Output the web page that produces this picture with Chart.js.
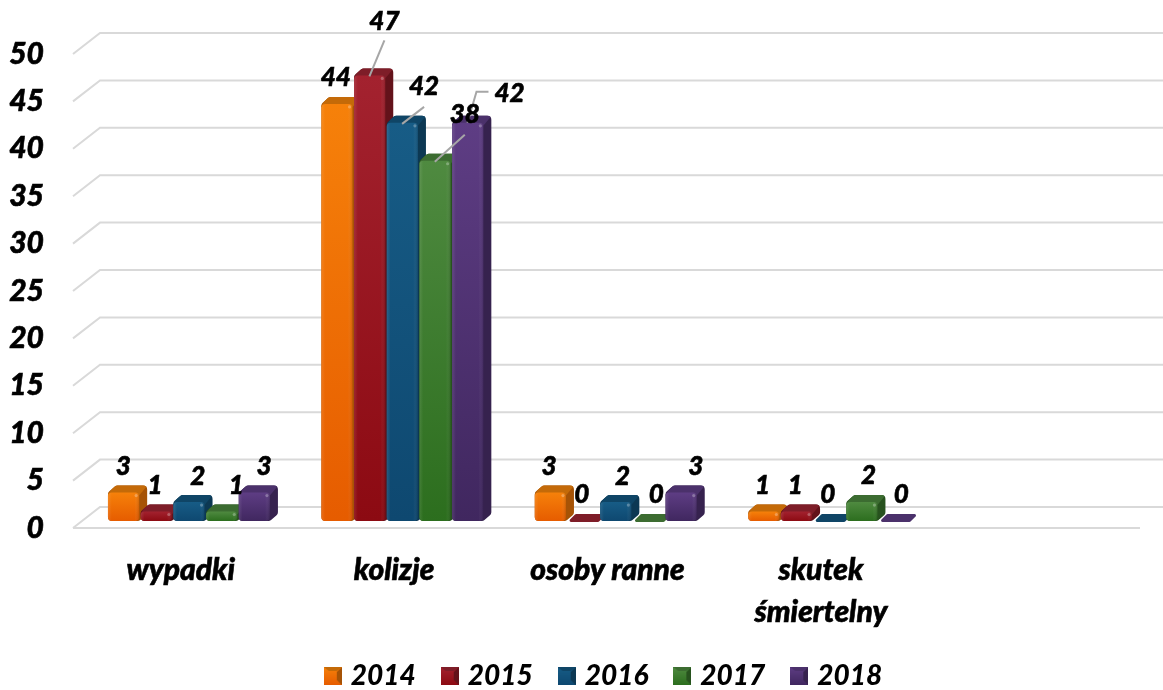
<!DOCTYPE html>
<html><head><meta charset="utf-8">
<style>html,body{margin:0;padding:0;background:#fff}canvas{display:block}</style>
<script src="https://cdn.jsdelivr.net/npm/chart.js@4"></script>
</head><body><div style="width:1163px;height:690px"><canvas id="c" width="1163" height="690"></canvas></div>
<script>
const categories = ['wypadki','kolizje','osoby ranne',['skutek','śmiertelny'],''];
const years = ['2014','2015','2016','2017','2018'];
const values2014 = [3,44,3,1];
const values2015 = [1,47,0,1];
const values2016 = [2,42,2,0];
const values2017 = [1,38,0,2];
const values2018 = [3,42,3,0];
const yTicks = {min:0,max:50,step:5};

const FONT = 'Lato, Carlito, "Open Sans", sans-serif';
const WEIGHT = '900';
const palette = [
 {top:'#F6810A',bot:'#E65C00',cap:'#C46A08',side:'#A65306'},
 {top:'#A3222F',bot:'#8C0A12',cap:'#7E1D28',side:'#63121A'},
 {top:'#175C86',bot:'#0E4870',cap:'#0F4566',side:'#0C3853'},
 {top:'#4F8A40',bot:'#2C6E1E',cap:'#3C6C31',side:'#27521E'},
 {top:'#5E3D84',bot:'#40275F',cap:'#4B316B',side:'#36224E'}
];
const nudges = [
 [[-1,-26],[-2,-26],[-2,-26],[-2,-26]],
 [[-2,-26],[14,-54],[-2,-26],[-2,-26]],
 [[8,-25],[21,-36],[6,-25],[-2,-26]],
 [[14,-26],[29,-46],[7,-26],[6,-26]],
 [[9,-26],[41,-29],[14,-26],[6,-26]]
];
const leaders = [
 {ds:1,i:1,pts:[[14,-35],[-1,1]]},
 {ds:2,i:1,pts:[[21,-16],[-1,1]]},
 {ds:3,i:1,pts:[[29,-26],[-1,1]]},
 {ds:4,i:1,pts:[[20,-31],[8,-31],[-1,0]]}
];
const DX=8, DY=7;

function roundPoly(ctx,pts,r){
  const n=pts.length;
  ctx.beginPath();
  const mx=(pts[n-1][0]+pts[0][0])/2,my=(pts[n-1][1]+pts[0][1])/2;
  ctx.moveTo(mx,my);
  for(let k=0;k<n;k++){const a=pts[k],b=pts[(k+1)%n];ctx.arcTo(a[0],a[1],b[0],b[1],r);}
  ctx.closePath();
}
function drawBar(ctx,el,c){
  const {x,y,width,base}=el.getProps(['x','y','width','base'],true);
  const x0=x-width/2,x1=x0+width-1.5,h=base-y;
  ctx.save();
  if(h<=0){
    ctx.fillStyle=c.cap;
    roundPoly(ctx,[[x0,base+1],[x0+DX,base-DY],[x1+DX,base-DY],[x1,base+1]],1.5);
    ctx.fill();ctx.restore();return;
  }
  const sil=[[x0,base],[x0,y],[x0+DX,y-DY],[x1+DX,y-DY],[x1+DX,base-DY],[x1,base]];
  ctx.fillStyle=c.side;
  roundPoly(ctx,sil,4);ctx.fill();
  ctx.save();ctx.clip();
  ctx.fillStyle=c.cap;
  ctx.beginPath();ctx.moveTo(x0-1,y+3);ctx.lineTo(x0+DX-1,y-DY-1);ctx.lineTo(x1+DX+1,y-DY-1);ctx.lineTo(x1,y+3);ctx.closePath();ctx.fill();
  ctx.restore();
  const g=ctx.createLinearGradient(0,y,0,base);
  g.addColorStop(0,c.top);g.addColorStop(1,c.bot);
  ctx.fillStyle=g;
  roundPoly(ctx,[[x0,y],[x1,y],[x1,base],[x0,base]],Math.min(4,h/2));
  ctx.fill();
  const e=ctx.createLinearGradient(x0,0,x1,0);
  e.addColorStop(0,'rgba(255,255,255,0.10)');e.addColorStop(.12,'rgba(255,255,255,0)');
  e.addColorStop(.85,'rgba(255,255,255,0)');e.addColorStop(1,'rgba(0,0,0,0.14)');
  ctx.fillStyle=e;ctx.fill();
  ctx.fillStyle='rgba(255,255,255,0.28)';
  ctx.beginPath();ctx.arc(x1-3,y+3,1.6,0,Math.PI*2);ctx.fill();
  ctx.restore();
}
function legendSwatch(c){
  const s=document.createElement('canvas');s.width=18;s.height=18;
  const q=s.getContext('2d');
  const g=q.createLinearGradient(0,0,0,18);g.addColorStop(0,c.top);g.addColorStop(1,c.bot);
  q.fillStyle=g;q.fillRect(0,0,18,18);
  q.fillStyle=c.side;q.beginPath();q.moveTo(18,0);q.lineTo(13,5);q.lineTo(13,13);q.lineTo(18,18);q.fill();
  q.fillStyle=c.cap;q.beginPath();q.moveTo(0,0);q.lineTo(18,0);q.lineTo(13,4);q.lineTo(5,4);q.fill();
  return s;
}
const swatches=palette.map(legendSwatch);

const bars3d={
  id:'bars3d',
  afterLayout(chart){
    const l=chart.legend;
    l.left=61;l.right=1150;l.top=632;l.bottom=720;
    const y=chart.scales.y;
    y.top=47;y.bottom=521;y.height=474;y.configure();
    chart.chartArea.top=47;chart.chartArea.height=474;
  },
  beforeDatasetsDraw(chart){
    const ctx=chart.ctx,y=chart.scales.y,a=chart.chartArea;
    ctx.save();ctx.strokeStyle='#D9D9D9';ctx.lineWidth=2;
    y.ticks.forEach(t=>{
      const p=y.getPixelForValue(t.value);
      ctx.beginPath();ctx.moveTo(a.left-10,p+7);ctx.lineTo(a.left+17,p-14);ctx.lineTo(a.right+13,p-14);ctx.stroke();
    });
    const p0=y.getPixelForValue(0);
    ctx.beginPath();ctx.moveTo(a.left-10,p0+7);ctx.lineTo(a.right-10,p0+7);ctx.stroke();
    ctx.restore();
    // Chart.js walks datasets last-to-first; the later years must sit on top here.
    chart.data.datasets.forEach((d,ds)=>{
      chart.getDatasetMeta(ds).data.forEach(el=>drawBar(ctx,el,palette[ds]));
    });
  },
  beforeDatasetDraw(){ return false; },
  afterDatasetsDraw(chart){
    const ctx=chart.ctx;
    ctx.save();
    ctx.strokeStyle='#A6A6A6';ctx.lineWidth=2;
    leaders.forEach(l=>{
      const el=chart.getDatasetMeta(l.ds).data[l.i];
      ctx.beginPath();
      l.pts.forEach((p,k)=>{const X=el.x+p[0],Y=el.y+p[1];k?ctx.lineTo(X,Y):ctx.moveTo(X,Y);});
      ctx.stroke();
    });
    ctx.fillStyle='#000';ctx.strokeStyle='#000';ctx.lineWidth=0.6;ctx.textAlign='center';ctx.textBaseline='middle';
    ctx.font='italic '+WEIGHT+' 26px '+FONT;
    chart.data.datasets.forEach((d,ds)=>{
      chart.getDatasetMeta(ds).data.forEach((el,i)=>{
        const n=nudges[ds][i],t=String(d.data[i]);
        ctx.fillText(t,el.x+n[0],el.y+n[1]);
        ctx.strokeText(t,el.x+n[0],el.y+n[1]);
      });
    });
    ctx.restore();
  }
};

const seriesValues=[values2014,values2015,values2016,values2017,values2018];
new Chart(document.getElementById('c'),{
  type:'bar',
  data:{labels:categories,datasets:years.map((yr,i)=>({label:yr,data:seriesValues[i],backgroundColor:palette[i].top,barPercentage:1,categoryPercentage:0.766}))},
  plugins:[bars3d],
  options:{
    responsive:false,animation:false,
    layout:{padding:{left:0,right:13,top:33,bottom:-24}},
    plugins:{
      tooltip:{enabled:false},
      legend:{
        position:'bottom',
        labels:{
          usePointStyle:true,pointStyleWidth:8,boxHeight:18,padding:30,color:'#000',
          font:{family:FONT,size:28,style:'italic',weight:WEIGHT},
          generateLabels(chart){
            return chart.data.datasets.map((d,i)=>({text:d.label,fillStyle:palette[i].top,strokeStyle:palette[i].top,lineWidth:0,pointStyle:swatches[i],datasetIndex:i,fontColor:'#000'}));
          }
        }
      }
    },
    scales:{
      x:{
        grid:{display:false},border:{display:false},
        ticks:{color:'#000',autoSkip:false,maxRotation:0,minRotation:0,labelOffset:-9,padding:20,textStrokeColor:'#000',textStrokeWidth:0.6,
          font:{family:FONT,size:30,style:'italic',weight:WEIGHT,lineHeight:1.4}},
        afterFit(s){s.height=125;}
      },
      y:{
        min:yTicks.min,max:yTicks.max,
        grid:{display:false},border:{display:false},
        ticks:{stepSize:yTicks.step,color:'#000',labelOffset:7,padding:31,textStrokeColor:'#000',textStrokeWidth:0.6,
          font:{family:FONT,size:30,style:'italic',weight:WEIGHT}},
        afterFit(s){s.width=83;}
      }
    }
  }
});
</script></body></html>
